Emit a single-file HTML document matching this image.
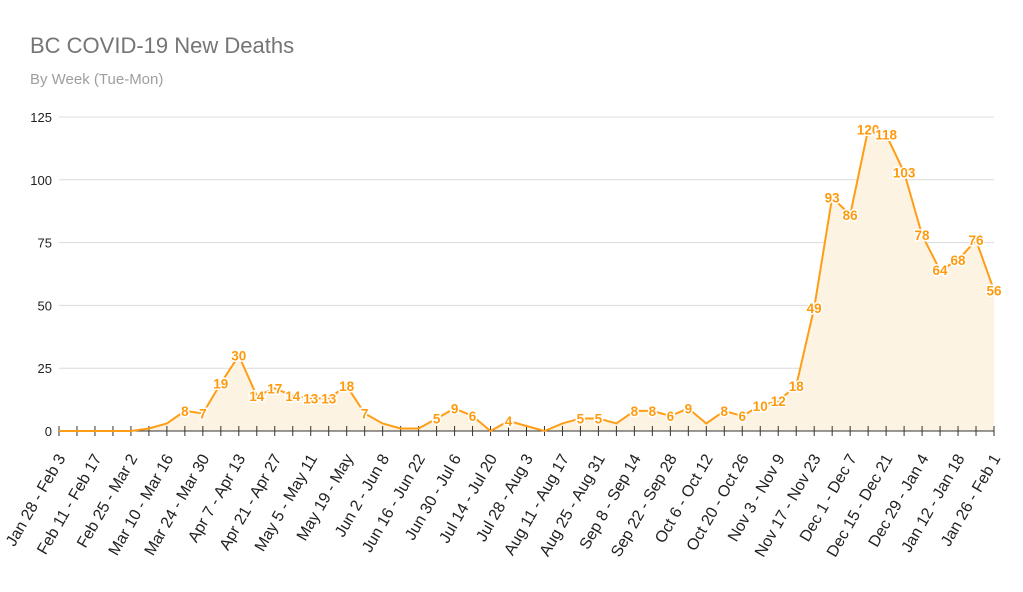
<!DOCTYPE html>
<html><head><meta charset="utf-8"><style>
body{margin:0;background:#fff;font-family:"Liberation Sans",sans-serif}
svg text{font-family:"Liberation Sans",sans-serif}
</style></head><body>
<svg width="1023" height="587">
<text x="30" y="53" font-size="22" fill="#757575">BC COVID-19 New Deaths</text>
<text x="30" y="84" font-size="15" fill="#9e9e9e">By Week (Tue-Mon)</text>
<g id="g"></g>
</svg>
<script>
const categories=["Jan 28 - Feb 3","Feb 4 - Feb 10","Feb 11 - Feb 17","Feb 18 - Feb 24","Feb 25 - Mar 2","Mar 3 - Mar 9","Mar 10 - Mar 16","Mar 17 - Mar 23","Mar 24 - Mar 30","Mar 31 - Apr 6","Apr 7 - Apr 13","Apr 14 - Apr 20","Apr 21 - Apr 27","Apr 28 - May 4","May 5 - May 11","May 12 - May 18","May 19 - May","May 26 - Jun 1","Jun 2 - Jun 8","Jun 9 - Jun 15","Jun 16 - Jun 22","Jun 23 - Jun 29","Jun 30 - Jul 6","Jul 7 - Jul 13","Jul 14 - Jul 20","Jul 21 - Jul 27","Jul 28 - Aug 3","Aug 4 - Aug 10","Aug 11 - Aug 17","Aug 18 - Aug 24","Aug 25 - Aug 31","Sep 1 - Sep 7","Sep 8 - Sep 14","Sep 15 - Sep 21","Sep 22 - Sep 28","Sep 29 - Oct 5","Oct 6 - Oct 12","Oct 13 - Oct 19","Oct 20 - Oct 26","Oct 27 - Nov 2","Nov 3 - Nov 9","Nov 10 - Nov 16","Nov 17 - Nov 23","Nov 24 - Nov 30","Dec 1 - Dec 7","Dec 8 - Dec 14","Dec 15 - Dec 21","Dec 22 - Dec 28","Dec 29 - Jan 4","Jan 5 - Jan 11","Jan 12 - Jan 18","Jan 19 - Jan 25","Jan 26 - Feb 1"];
const deaths=[0,0,0,0,0,1,3,8,7,19,30,14,17,14,13,13,18,7,3,1,1,5,9,6,0,4,2,0,3,5,5,3,8,8,6,9,3,8,6,10,12,18,49,93,86,120,118,103,78,64,68,76,56];
const labeled=[0,0,0,0,0,0,0,1,1,1,1,1,1,1,1,1,1,1,0,0,0,1,1,1,0,1,0,0,0,1,1,0,1,1,1,1,0,1,1,1,1,1,1,1,1,1,1,1,1,1,1,1,1];
const yTicks=[0,25,50,75,100,125];
const NS="http://www.w3.org/2000/svg",g=document.getElementById('g');
const X0=59,X1=994,Y0=431,Y1=117,YMAX=125;
const x=i=>X0+(X1-X0)*i/(categories.length-1);
const y=v=>Y0-(Y0-Y1)*v/YMAX;
function mk(t,a){const e=document.createElementNS(NS,t);for(const k in a)e.setAttribute(k,a[k]);g.appendChild(e);return e;}
yTicks.forEach(t=>{
 if(t>0){const l=mk('line',{x1:X0,x2:X1,y1:y(t),y2:y(t),stroke:'#dcdcdc'});
 
 }
 const tx=mk('text',{x:52,y:y(t)+5,'text-anchor':'end','font-size':13,fill:'#222'});tx.textContent=t;
 
 
});
let pts=deaths.map((v,i)=>x(i)+','+y(v)).join(' ');
const area=mk('polygon',{points:x(0)+','+Y0+' '+pts+' '+x(deaths.length-1)+','+Y0,fill:'#fdf3e2'});


const ax=mk('line',{x1:X0,x2:X1,y1:Y0,y2:Y0,stroke:'#333'});


categories.forEach((c,i)=>{
 const tk=mk('line',{x1:x(i),x2:x(i),y1:Y0-5,y2:Y0+5,stroke:'#333'});
 
 
 if(i%2==0){const t=mk('text',{x:0,y:0,'text-anchor':'end','font-size':16,fill:'#222',transform:`translate(${x(i)+7},${458}) rotate(-60)`});t.textContent=c;
 
 }
});
const line=mk('polyline',{points:pts,fill:'none',stroke:'#ff9e16','stroke-width':2});


deaths.forEach((v,i)=>{
 if(!labeled[i])return;
 const t=mk('text',{x:x(i),y:y(v)+5,'text-anchor':'middle','font-size':13.5,'font-weight':'bold',fill:'#ff9a0e',stroke:'#fff','stroke-width':3,'paint-order':'stroke'});
 t.textContent=v;
 
 
});
</script>
</body></html>
